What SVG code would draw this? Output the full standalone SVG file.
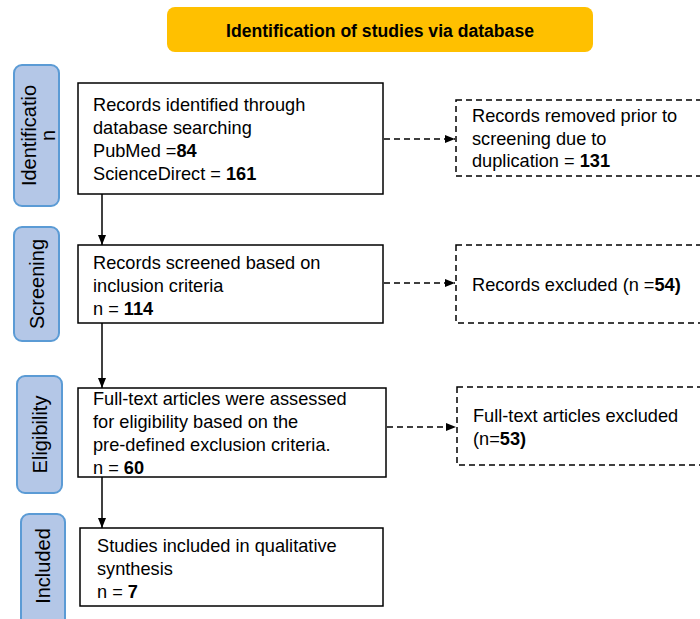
<svg xmlns="http://www.w3.org/2000/svg" width="700" height="619" viewBox="0 0 700 619">
<defs>
<marker id="ah" markerWidth="10" markerHeight="8" refX="10" refY="4" orient="auto" markerUnits="userSpaceOnUse">
<path d="M0,0 L10,4 L0,8 Z" fill="#000"/>
</marker>
<style>
.t{font-family:"Liberation Sans",Arial,sans-serif;font-size:18.2px;fill:#000}
.b{font-weight:bold}
.box{fill:#fff;stroke:#000;stroke-width:1.5}
.dbox{fill:#fff;stroke:#000;stroke-width:1.5;stroke-dasharray:6,4}
.lab{fill:#B4C7E7;stroke:#5B9BD5;stroke-width:2}
.lt{font-family:"Liberation Sans",Arial,sans-serif;font-size:20px;fill:#000;text-anchor:middle}
.con{stroke:#000;stroke-width:1.5;fill:none}
.dcon{stroke:#000;stroke-width:1.5;fill:none;stroke-dasharray:6,4}
</style>
</defs>
<rect width="700" height="619" fill="#fff"/>
<g id="header">
<rect x="167" y="7" width="426" height="45" rx="8" fill="#FFC000"/>
<text x="380" y="37" class="t b" style="font-size:17.6px" text-anchor="middle">Identification of studies via database</text>
</g>
<g id="label-identification">
<rect x="14" y="65" width="45" height="141" rx="8" class="lab"/>
<text transform="translate(36.5,135.5) rotate(-90)" class="lt"><tspan x="0" y="-1">Identificatio</tspan><tspan x="0" y="18">n</tspan></text>
</g>
<g id="label-screening">
<rect x="14" y="227" width="45" height="114" rx="8" class="lab"/>
<text transform="translate(36.5,284) rotate(-90)" class="lt" y="7">Screening</text>
</g>
<g id="label-eligibility">
<rect x="17" y="376" width="45" height="117" rx="8" class="lab"/>
<text transform="translate(39.5,434.5) rotate(-90)" class="lt" y="7">Eligibility</text>
</g>
<g id="label-included">
<rect x="21" y="514" width="44" height="115" rx="8" class="lab"/>
<text transform="translate(43,566) rotate(-90)" class="lt" y="7">Included</text>
</g>
<g id="box-identified">
<rect x="78" y="83" width="305" height="111" class="box"/>
<text class="t"><tspan x="93" y="111">Records identified through</tspan><tspan x="93" y="134">database searching</tspan><tspan x="93" y="157">PubMed =<tspan class="b">84</tspan></tspan><tspan x="93" y="180">ScienceDirect = <tspan class="b">161</tspan></tspan></text>
</g>
<g id="box-removed">
<rect x="456" y="100" width="260" height="76" class="dbox"/>
<text class="t"><tspan x="472" y="122">Records removed prior to</tspan><tspan x="472" y="145">screening due to</tspan><tspan x="472" y="167">duplication = <tspan class="b">131</tspan></tspan></text>
</g>
<g id="box-screened">
<rect x="78" y="245" width="305" height="78" class="box"/>
<text class="t"><tspan x="93" y="269">Records screened based on</tspan><tspan x="93" y="292">inclusion criteria</tspan><tspan x="93" y="315">n = <tspan class="b">114</tspan></tspan></text>
</g>
<g id="box-excluded">
<rect x="456" y="245" width="260" height="78" class="dbox"/>
<text class="t" x="472" y="291">Records excluded (n =<tspan class="b">54)</tspan></text>
</g>
<g id="box-assessed">
<rect x="78" y="388" width="308" height="89" class="box"/>
<text class="t"><tspan x="93" y="405">Full-text articles were assessed</tspan><tspan x="93" y="428">for eligibility based on the</tspan><tspan x="93" y="451">pre-defined exclusion criteria.</tspan><tspan x="93" y="474">n = <tspan class="b">60</tspan></tspan></text>
</g>
<g id="box-ft-excluded">
<rect x="457" y="387" width="260" height="78" class="dbox"/>
<text class="t"><tspan x="473" y="422">Full-text articles excluded</tspan><tspan x="473" y="445">(n=<tspan class="b">53)</tspan></tspan></text>
</g>
<g id="box-included">
<rect x="80" y="528" width="303" height="78" class="box"/>
<text class="t"><tspan x="97" y="552">Studies included in qualitative</tspan><tspan x="97" y="575">synthesis</tspan><tspan x="97" y="598">n = <tspan class="b">7</tspan></tspan></text>
</g>
<g id="connectors">
<line x1="102" y1="194" x2="102" y2="245" class="con" marker-end="url(#ah)"/>
<line x1="102" y1="323" x2="102" y2="388" class="con" marker-end="url(#ah)"/>
<line x1="102" y1="477" x2="102" y2="528" class="con" marker-end="url(#ah)"/>
<line x1="384" y1="139" x2="455" y2="139" class="dcon" marker-end="url(#ah)"/>
<line x1="384" y1="283" x2="455" y2="283" class="dcon" marker-end="url(#ah)"/>
<line x1="387" y1="427" x2="456" y2="427" class="dcon" marker-end="url(#ah)"/>
</g>
</svg>
